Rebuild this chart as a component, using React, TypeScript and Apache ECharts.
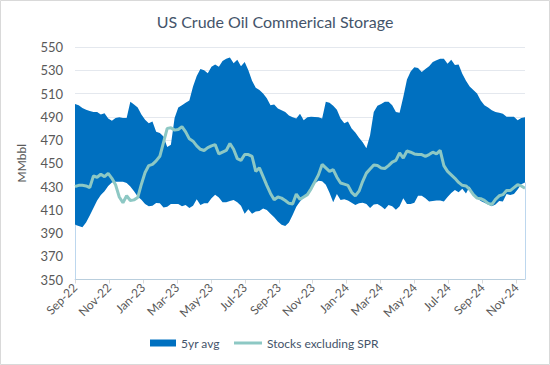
import React, { useEffect, useRef } from 'react';
import * as echarts from 'echarts';

const TICK_LABELS = ['Sep-22', 'Nov-22', 'Jan-23', 'Mar-23', 'May-23', 'Jul-23', 'Sep-23', 'Nov-23', 'Jan-24', 'Mar-24', 'May-24', 'Jul-24', 'Sep-24', 'Nov-24'];

// 5-year range upper bound (MMbbl), weekly
const UPPER = [
  501, 500, 497.5, 496, 495, 494, 494, 492, 493, 488.5,
  486.5, 489, 489.5, 489, 489, 503, 500.5, 498, 492, 487.5,
  484.5, 486, 477, 476, 473, 464, 466, 489, 498, 500,
  502, 504, 516, 525, 531, 530, 527.5, 533, 535, 533,
  538, 540, 541, 536, 539, 533.5, 537, 530, 521, 515,
  513, 510, 506, 500, 500.5, 497, 495.5, 494, 491, 489.5,
  488.5, 492.5, 487, 489.5, 490, 489.8, 489.5, 488.5, 503, 502,
  499.5, 496, 488.5, 484.5, 486, 480, 476.5, 472, 468, 463,
  474, 494, 499.5, 501, 503, 503, 500, 494, 493.5, 507,
  522, 529, 532.5, 532, 528.5, 531, 533.5, 537, 538.5, 540,
  540, 535.5, 539, 534.5, 535, 527, 521, 516, 513, 510,
  504, 500, 498, 495.5, 494, 493.4, 492.5, 490, 490, 490,
  487, 489, 489.5,
];

// 5-year range lower bound (MMbbl), weekly
const LOWER = [
  397, 396, 395, 399, 405, 411.5, 418, 422.7, 426, 430.5,
  433.5, 434, 434, 434, 433, 430, 426, 421.5, 418.5, 415,
  413, 413.5, 415.7, 415.5, 412, 412.5, 415, 415, 415, 413,
  414, 411.5, 413.5, 419, 414, 415.5, 415.5, 420, 423, 420.5,
  416.5, 416.5, 417.5, 418.4, 416.5, 413.5, 406.5, 410.5, 406.5, 408.5,
  409, 411, 409.8, 406.5, 403.5, 400, 397, 396, 399, 405.5,
  412.5, 417, 420.5, 423.5, 427.5, 432.5, 435, 434.5, 431.5, 424.7,
  416.5, 423.5, 418.4, 419, 418, 416, 414, 415.5, 416, 415,
  411.5, 414.5, 415, 413, 410.5, 414, 413, 410, 413, 420,
  415, 415, 416, 422, 422, 420, 417, 417.5, 418, 418,
  417, 421, 424.5, 427, 425, 428, 424, 430, 423, 420,
  417.5, 416, 414.5, 413, 414.5, 417.5, 417, 423.5, 422.7, 423.5,
  427.5, 432, 433.5,
];

// Commercial crude stocks excluding SPR (MMbbl), weekly
const STOCKS = [
  430, 431, 431, 430.5, 429, 439, 438, 440.5, 438.5, 441.3,
  437, 431.5, 421, 416, 422, 418, 418.5, 420.5, 432, 442,
  448, 449, 452, 456, 468, 480, 480.5, 478.5, 479, 481.5,
  477, 471, 469, 465, 462, 461, 463.5, 465, 466, 458,
  459.5, 461, 467, 462, 454, 452.5, 457.5, 457.5, 456, 443,
  446, 438.5, 431, 424, 418.5, 421, 420, 418, 415.5, 415,
  423.5, 419, 421, 423, 428, 434, 440, 449, 446, 443,
  444.5, 438, 433, 432, 431, 425, 422, 426, 434.5, 441.5,
  445, 448.5, 448, 446, 445.5, 448, 451, 452.5, 459, 454.5,
  460.5, 459.5, 458, 457.5, 457.5, 456, 457.5, 459.5, 458, 461,
  448, 443, 440, 437, 433.5, 431, 430.5, 427.5, 423, 420,
  419.5, 418, 415.5, 414.5, 419, 422, 423, 426.5, 426.5, 429,
  431.5, 430.5, 428.5,
];

const SPAN_MONTHS = 26.5; // months from Sep-22 covered by the weekly series

export default function App() {
  const ref = useRef<HTMLDivElement>(null);

  useEffect(() => {
    if (!ref.current) return;
    const chart = echarts.init(ref.current, null, { renderer: 'svg' });
    const n = UPPER.length;
    const xs = UPPER.map((_, i) => (i * SPAN_MONTHS) / (n - 1));
    const pair = (arr: number[]) => arr.map((v, i) => [xs[i], v]);
    const font = 'Lato, "Liberation Sans", sans-serif';
    const blue = '#0070C0';
    const teal = '#8DC8C4';
    const legendText = { fontFamily: font, fontSize: 12, color: '#44546A' };

    chart.setOption({
      animation: false,
      backgroundColor: '#FFFFFF',
      textStyle: { fontFamily: font },
      title: {
        text: 'US Crude Oil Commerical Storage',
        left: 'center',
        top: 8,
        textStyle: { fontFamily: font, fontSize: 16, fontWeight: 'normal', color: '#44546A' },
      },
      graphic: [
        {
          type: 'rect',
          shape: { x: 0.5, y: 0.5, width: 549, height: 364 },
          style: { fill: 'none', stroke: '#D9D9D9', lineWidth: 1 },
          silent: true,
          z: 100,
        },
      ],
      legend: [
        {
          left: 145,
          top: 332,
          itemWidth: 26,
          itemHeight: 7,
          textStyle: legendText,
          data: [{ name: '5yr avg', icon: 'rect' }],
        },
        {
          left: 229,
          top: 332,
          itemWidth: 28,
          itemHeight: 3,
          textStyle: legendText,
          data: [{ name: 'Stocks excluding SPR', icon: 'rect' }],
        },
      ],
      grid: { left: 75, right: 25, top: 47, bottom: 85.5 },
      xAxis: {
        type: 'value',
        min: 0,
        max: SPAN_MONTHS,
        interval: 2,
        axisLine: { show: true, lineStyle: { color: '#D9D9D9' } },
        axisTick: { show: true, length: 4, lineStyle: { color: '#D9D9D9' } },
        splitLine: { show: false },
        axisLabel: {
          rotate: 45,
          margin: 6,
          fontSize: 12,
          color: '#595959',
          fontFamily: font,
          showMaxLabel: false,
          formatter: (v: number) => {
            const idx = Math.round(v / 2);
            if (Math.abs(v - idx * 2) > 0.01) return '';
            return TICK_LABELS[idx] ?? '';
          },
        },
      },
      yAxis: {
        type: 'value',
        min: 350,
        max: 550,
        interval: 20,
        name: 'MMbbl',
        nameLocation: 'middle',
        nameGap: 48,
        nameRotate: 90,
        nameTextStyle: { fontFamily: font, fontSize: 12, color: '#595959' },
        axisLine: { show: false },
        axisTick: { show: false },
        splitLine: { lineStyle: { color: '#E4E8EE', width: 1 } },
        axisLabel: { fontSize: 13, color: '#595959', margin: 12, fontFamily: font },
      },
      series: [
        {
          name: '5yr avg',
          type: 'line',
          data: pair(UPPER),
          symbol: 'none',
          lineStyle: { width: 0, color: blue },
          itemStyle: { color: blue },
          areaStyle: { color: blue, opacity: 1, origin: 'start' },
          z: 1,
        },
        {
          name: 'lower',
          type: 'line',
          data: pair(LOWER),
          symbol: 'none',
          lineStyle: { width: 0, color: '#FFFFFF' },
          itemStyle: { color: '#FFFFFF' },
          areaStyle: { color: '#FFFFFF', opacity: 1, origin: 'start' },
          z: 2,
          markLine: {
            silent: true,
            symbol: ['none', 'none'],
            label: { show: false },
            lineStyle: { color: '#BDD7EE', width: 1, type: 'solid' },
            data: [
              [{ coord: [xs[0], 350] }, { coord: [xs[0], LOWER[0]] }],
              [{ coord: [xs[n - 1], 350] }, { coord: [xs[n - 1], LOWER[n - 1]] }],
            ],
          },
        },
        {
          name: 'Stocks excluding SPR',
          type: 'line',
          data: pair(STOCKS),
          symbol: 'none',
          lineStyle: { width: 3, color: teal },
          itemStyle: { color: teal },
          z: 3,
        },
      ],
    });

    return () => chart.dispose();
  }, []);

  return (
    <div
      ref={ref}
      style={{ position: 'absolute', left: 0, top: 0, width: 550, height: 365 }}
    />
  );
}
